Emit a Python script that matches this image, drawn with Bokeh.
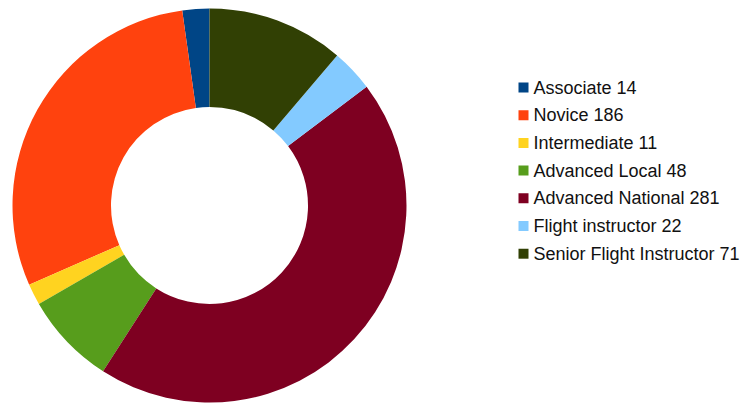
import numpy as np
from bokeh.plotting import figure
from bokeh.models import Range1d, ColumnDataSource
from bokeh.core.properties import value
from bokeh.embed import file_html
from bokeh.resources import INLINE

categories = ["Associate", "Novice", "Intermediate", "Advanced Local",
              "Advanced National", "Flight instructor", "Senior Flight Instructor"]
counts = [14, 186, 11, 48, 281, 22, 71]
colors = ["#004586", "#ff420e", "#ffd320", "#579d1c", "#7e0021", "#83caff", "#314004"]

W, H = 747, 403
p = figure(width=W, height=H, output_backend="svg", toolbar_location=None,
           x_range=Range1d(0, W), y_range=Range1d(0, H), min_border=0)
p.axis.visible = False
p.grid.visible = False
p.outline_line_color = None
p.background_fill_color = "white"
p.border_fill_color = "white"

total = sum(counts)
cum = np.cumsum([0] + counts)
starts = np.pi / 2 + cum[:-1] / total * 2 * np.pi
ends = np.pi / 2 + cum[1:] / total * 2 * np.pi

def sy(y):
    return H - y

cx, cy = 209, sy(205)
src = ColumnDataSource(dict(start=starts, end=ends, color=colors))
p.annular_wedge(x=cx, y=cy, inner_radius=98.5, outer_radius=197,
                start_angle="start", end_angle="end", direction="anticlock",
                fill_color="color", line_color=None, source=src)

n = len(categories)
row_y = [sy(87 + 27.7 * i) for i in range(n)]
labels = [f"{c} {v}" for c, v in zip(categories, counts)]
p.rect(x=[523] * n, y=row_y, width=10, height=10, fill_color=colors, line_color=None)
p.text(x=[533] * n, y=row_y, text=labels, text_font=value("Liberation Sans"),
       text_font_size="18px", text_baseline="middle", text_align="left",
       text_color="#111111")

open("out.html", "w").write(file_html(p, INLINE))
